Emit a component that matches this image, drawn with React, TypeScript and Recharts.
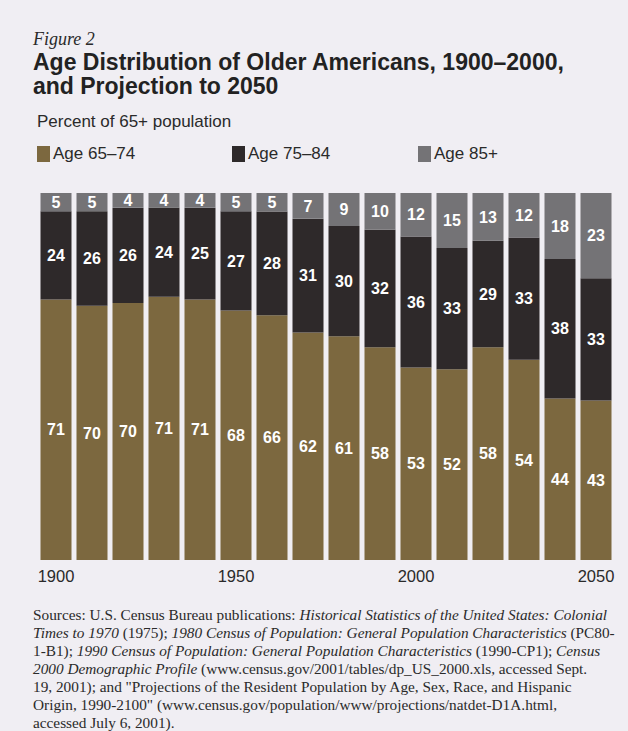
import React from "react";
import { BarChart, Bar, XAxis, YAxis, LabelList } from "recharts";

const years = ["1900", "1910", "1920", "1930", "1940", "1950", "1960", "1970", "1980", "1990", "2000", "2010", "2020", "2030", "2040", "2050"];
const age65to74 = [71, 70, 70, 71, 71, 68, 66, 62, 61, 58, 53, 52, 58, 54, 44, 43];
const age75to84 = [24, 26, 26, 24, 25, 27, 28, 31, 30, 32, 36, 33, 29, 33, 38, 33];
const age85plus = [5, 5, 4, 4, 4, 5, 5, 7, 9, 10, 12, 15, 13, 12, 18, 23];

const data = years.map((year, i) => ({
  year,
  a: age65to74[i],
  b: age75to84[i],
  c: age85plus[i],
}));

const COLORS = { a: "#7c683f", b: "#2e292a", c: "#747376" };
const sans = "'Liberation Sans', Arial, sans-serif";
const serif = "'Liberation Serif', 'DejaVu Serif', serif";

const sourceLines = [
  <>Sources: U.S. Census Bureau publications: <i>Historical Statistics of the United States: Colonial</i></>,
  <><i>Times to 1970</i> (1975); <i>1980 Census of Population: General Population Characteristics</i> (PC80-</>,
  <>1-B1); <i>1990 Census of Population: General Population Characteristics</i> (1990-CP1); <i>Census</i></>,
  <><i>2000 Demographic Profile</i> (www.census.gov/2001/tables/dp_US_2000.xls, accessed Sept.</>,
  <>19, 2001); and "Projections of the Resident Population by Age, Sex, Race, and Hispanic</>,
  <>Origin, 1990-2100" (www.census.gov/population/www/projections/natdet-D1A.html,</>,
  <>accessed July 6, 2001).</>,
];

const labelStyle = { fill: "#ffffff", fontSize: 16, fontWeight: 700, fontFamily: sans };

function LegendItem({ color, label, left }: { color: string; label: string; left: number }) {
  return (
    <div style={{ position: "absolute", left, top: 144, display: "flex", alignItems: "center" }}>
      <div style={{ width: 13, height: 16, background: color, marginRight: 3 }} />
      <span style={{ fontFamily: sans, fontSize: 17, color: "#2a2a2a" }}>{label}</span>
    </div>
  );
}

export default function App() {
  return (
    <div style={{ position: "absolute", left: 0, top: 0, width: 628, height: 731, background: "#f0eef3", overflow: "hidden" }}>
      <div style={{ position: "absolute", left: 33, top: 29, fontFamily: serif, fontStyle: "italic", fontSize: 18, color: "#2a2a2a" }}>
        Figure 2
      </div>
      <div style={{ position: "absolute", left: 33, top: 50, fontFamily: sans, fontWeight: 700, fontSize: 23, lineHeight: "24px", color: "#222" }}>
        Age Distribution of Older Americans, 1900–2000,
        <br />
        and Projection to 2050
      </div>
      <div style={{ position: "absolute", left: 37, top: 112, fontFamily: sans, fontSize: 17, color: "#2a2a2a" }}>
        Percent of 65+ population
      </div>
      <LegendItem color={COLORS.a} label="Age 65–74" left={37} />
      <LegendItem color={COLORS.b} label="Age 75–84" left={232} />
      <LegendItem color={COLORS.c} label="Age 85+" left={418} />

      <div style={{ position: "absolute", left: 0, top: 185 }}>
        <BarChart
          width={628}
          height={410}
          data={data}
          stackOffset="expand"
          barCategoryGap={2.5}
          margin={{ top: 8, right: 14, left: 38, bottom: 5 }}
        >
          <XAxis
            dataKey="year"
            interval={4}
            axisLine={false}
            tickLine={false}
            height={30}
            tick={{ fontSize: 16.5, fill: "#2a2a2a", fontFamily: sans }}
            tickMargin={4}
          />
          <YAxis hide domain={[0, 1]} />
          <Bar dataKey="a" stackId="s" fill={COLORS.a} isAnimationActive={false}>
            <LabelList dataKey="a" position="center" style={labelStyle} />
          </Bar>
          <Bar dataKey="b" stackId="s" fill={COLORS.b} isAnimationActive={false}>
            <LabelList dataKey="b" position="center" style={labelStyle} />
          </Bar>
          <Bar dataKey="c" stackId="s" fill={COLORS.c} isAnimationActive={false}>
            <LabelList dataKey="c" position="center" style={labelStyle} />
          </Bar>
        </BarChart>
      </div>

      <div style={{ position: "absolute", left: 33, top: 606, fontFamily: serif, fontSize: 15.3, lineHeight: "18px", color: "#2a2a2a" }}>
        {sourceLines.map((line, i) => (
          <div key={i} style={{ whiteSpace: "nowrap" }}>{line}</div>
        ))}
      </div>
    </div>
  );
}
